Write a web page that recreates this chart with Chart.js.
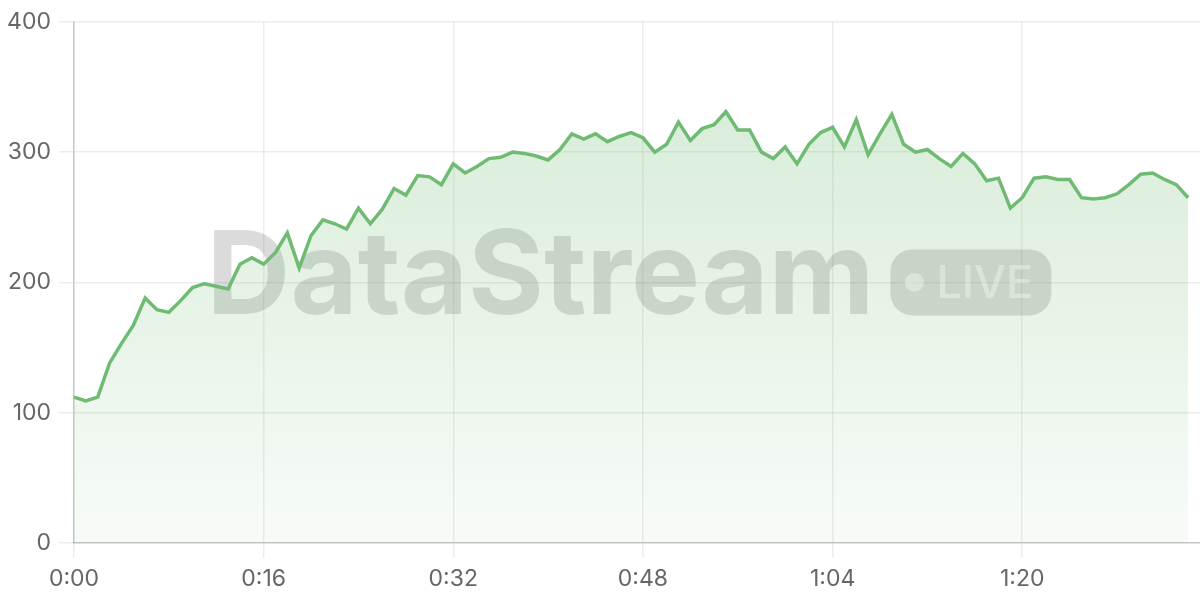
<!DOCTYPE html>
<html>
<head>
<meta charset="utf-8">
<title>DataStream live</title>
<script src="https://cdn.jsdelivr.net/npm/chart.js@4.4.1/dist/chart.umd.min.js"></script>
<style>
    html, body { margin: 0; padding: 0; background: #ffffff; }
    #wrap { width: 1200px; height: 600px; position: relative; }
</style>
</head>
<body>
<div id="wrap"><canvas id="streamChart"></canvas></div>
<script>
// elapsed time, one label per second (last slot has no sample yet)
const timeLabels = [
    "0:00","0:01","0:02","0:03","0:04","0:05","0:06","0:07","0:08","0:09",
    "0:10","0:11","0:12","0:13","0:14","0:15","0:16","0:17","0:18","0:19",
    "0:20","0:21","0:22","0:23","0:24","0:25","0:26","0:27","0:28","0:29",
    "0:30","0:31","0:32","0:33","0:34","0:35","0:36","0:37","0:38","0:39",
    "0:40","0:41","0:42","0:43","0:44","0:45","0:46","0:47","0:48","0:49",
    "0:50","0:51","0:52","0:53","0:54","0:55","0:56","0:57","0:58","0:59",
    "1:00","1:01","1:02","1:03","1:04","1:05","1:06","1:07","1:08","1:09",
    "1:10","1:11","1:12","1:13","1:14","1:15","1:16","1:17","1:18","1:19",
    "1:20","1:21","1:22","1:23","1:24","1:25","1:26","1:27","1:28","1:29",
    "1:30","1:31","1:32","1:33","1:34","1:35"
];

const streamValues = [
    112, 109, 112, 138, 153, 167, 188, 179, 177, 186,
    196, 199, 197, 195, 214, 219, 214, 223, 238, 211,
    236, 248, 245, 241, 257, 245, 256, 272, 267, 282,
    281, 275, 291, 284, 289, 295, 296, 300, 299, 297,
    294, 302, 314, 310, 314, 308, 312, 315, 311, 300,
    306, 323, 309, 318, 321, 331, 317, 317, 300, 295,
    304, 291, 306, 315, 319, 304, 325, 298, 314, 329,
    306, 300, 302, 295, 289, 299, 291, 278, 280, 257,
    265, 280, 281, 279, 279, 265, 264, 265, 268, 275,
    283, 284, 279, 275, 265
];

const xTickLabels = ["0:00", "0:16", "0:32", "0:48", "1:04", "1:20"];
const yTickValues = [0, 100, 200, 300, 400];

const lineGreen = "#70bb73";
const gridColor = "rgba(0,0,0,0.07)";
const axisColor = "rgba(0,0,0,0.17)";

Chart.defaults.font.family = "Inter, 'Noto Sans', sans-serif";
Chart.defaults.font.size = 23;
Chart.defaults.color = "#666666";

// big translucent brand mark behind the line
const watermarkPlugin = {
    id: "watermark",
    beforeDatasetsDraw(chart) {
        const ctx = chart.ctx;
        const area = chart.chartArea;
        const cx = (area.left + area.right) / 2 - 8;
        const cy = (area.top + area.bottom) / 2;

        ctx.save();
        ctx.font = "bold 116px Inter, sans-serif";
        const brand = "DataStream";
        const brandWidth = ctx.measureText(brand).width;

        const pillW = 161;
        const pillH = 66;
        const gap = 16;
        const total = brandWidth + gap + pillW;
        const startX = cx - total / 2;

        ctx.fillStyle = "rgba(0,0,0,0.14)";
        ctx.textBaseline = "alphabetic";
        ctx.fillText(brand, startX, cy + 32);

        const px = startX + brandWidth + gap;
        const py = cy - pillH / 2;
        ctx.beginPath();
        ctx.roundRect(px, py, pillW, pillH, 22);
        ctx.fill();

        ctx.fillStyle = "rgba(255,255,255,0.55)";
        ctx.beginPath();
        ctx.arc(px + 24, cy, 9.5, 0, Math.PI * 2);
        ctx.fill();

        ctx.font = "500 45px Inter, sans-serif";
        ctx.fillText("LIVE", px + 46, cy + 16);
        ctx.restore();
    }
};

const streamCtx = document.getElementById("streamChart");

new Chart(streamCtx, {
    type: "line",
    data: {
        labels: timeLabels,
        datasets: [{
            data: streamValues,
            borderColor: lineGreen,
            borderWidth: 3.5,
            pointRadius: 0,
            pointHoverRadius: 0,
            tension: 0,
            fill: "origin",
            backgroundColor: (context) => {
                const area = context.chart.chartArea;
                if (!area) return "rgba(109,186,112,0.15)";
                const g = context.chart.ctx.createLinearGradient(0, area.top, 0, area.bottom);
                g.addColorStop(0, "rgba(109,186,112,0.30)");
                g.addColorStop(1, "rgba(109,186,112,0.05)");
                return g;
            }
        }]
    },
    options: {
        responsive: true,
        maintainAspectRatio: false,
        animation: false,
        layout: {
            padding: { top: 20, right: 0, bottom: 0, left: 0 }
        },
        plugins: {
            legend: { display: false },
            tooltip: { enabled: false }
        },
        scales: {
            x: {
                type: "category",
                offset: false,
                afterBuildTicks: (scale) => {
                    scale.ticks = scale.ticks.filter(t => xTickLabels.includes(timeLabels[t.value]));
                },
                afterFit: (scale) => { scale.height = 57; },
                ticks: {
                    autoSkip: false,
                    maxRotation: 0,
                    padding: 7,
                    color: "#666666"
                },
                grid: {
                    color: gridColor,
                    tickLength: 15,
                    lineWidth: 1.5
                },
                border: { color: axisColor, width: 1.5 }
            },
            y: {
                min: 0,
                max: 400,
                afterBuildTicks: (scale) => {
                    scale.ticks = yTickValues.map(v => ({ value: v }));
                },
                afterFit: (scale) => { scale.width = 74; },
                ticks: {
                    padding: 8,
                    color: "#666666"
                },
                grid: {
                    color: gridColor,
                    tickLength: 15,
                    lineWidth: 1.5
                },
                border: { color: axisColor, width: 1.5 }
            }
        }
    },
    plugins: [watermarkPlugin]
});
</script>
</body>
</html>
